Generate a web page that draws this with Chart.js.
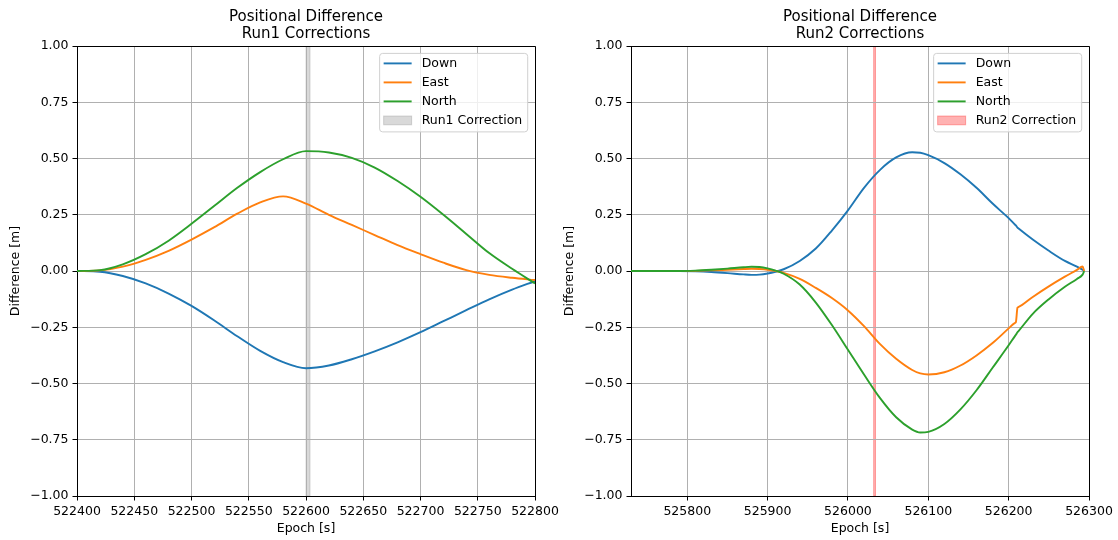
<!DOCTYPE html>
<html>
<head>
<meta charset="utf-8">
<script src="https://cdn.jsdelivr.net/npm/chart.js@4.4.0/dist/chart.umd.min.js"></script>
<style>
  body { margin: 0; background: #fff; }
  #wrap { position: relative; width: 1118px; height: 540px; }
  canvas { position: absolute; top: 0; }
</style>
</head>
<body>
<div id="wrap">
  <canvas id="run1" width="559" height="540" style="left:0"></canvas>
  <canvas id="run2" width="559" height="540" style="left:554px"></canvas>
</div>
<script>
// Run1 (left panel)
const leftEpochs = [522400, 522420, 522440, 522460, 522480, 522500, 522520, 522540, 522560, 522580,
  522600, 522620, 522640, 522660, 522680, 522700, 522720, 522740, 522760, 522780, 522800];
const leftDown = [0, -0.003, -0.022, -0.055, -0.10, -0.155, -0.22, -0.29, -0.355, -0.405,
  -0.432, -0.42, -0.392, -0.357, -0.317, -0.272, -0.223, -0.174, -0.126, -0.083, -0.045];
const leftEast = [0, 0.003, 0.02, 0.05, 0.09, 0.14, 0.195, 0.255, 0.305, 0.332,
  0.30, 0.25, 0.205, 0.16, 0.115, 0.075, 0.037, 0.004, -0.017, -0.03, -0.04];
const leftNorth = [0, 0.004, 0.03, 0.075, 0.135, 0.21, 0.29, 0.37, 0.44, 0.497,
  0.533, 0.527, 0.503, 0.46, 0.40, 0.33, 0.25, 0.165, 0.08, 0.01, -0.055];
const leftXTicks = [522400, 522450, 522500, 522550, 522600, 522650, 522700, 522750, 522800];
const run1Spans = [[522600, 522603.5]];

// Run2 (right panel)
const rightEpochs = [525730, 525760, 525790, 525810, 525830, 525850, 525870, 525880, 525890, 525900,
  525910, 525920, 525940, 525960, 525980, 526000, 526020, 526040, 526060, 526080, 526090, 526100,
  526120, 526140, 526160, 526180, 526200, 526208, 526209, 526211, 526212, 526230, 526250, 526270,
  526285, 526292, 526294];
const rightDown = [0, 0, 0, -0.001, -0.004, -0.009, -0.015, -0.017, -0.016, -0.011,
  -0.003, 0.008, 0.045, 0.10, 0.18, 0.27, 0.37, 0.45, 0.505, 0.528, 0.526, 0.515,
  0.48, 0.43, 0.37, 0.30, 0.235, 0.206, 0.203, 0.193, 0.190, 0.14, 0.09, 0.045,
  0.02, 0.006, 0];
const rightEast = [0, 0, 0, 0.001, 0.003, 0.006, 0.009, 0.01, 0.009, 0.006,
  0.0, -0.008, -0.035, -0.075, -0.12, -0.175, -0.245, -0.325, -0.39, -0.44, -0.455, -0.46,
  -0.45, -0.42, -0.375, -0.32, -0.255, -0.230, -0.227, -0.163, -0.160, -0.115, -0.068, -0.025,
  0.005, 0.02, 0];
const rightNorth = [0, 0, 0, 0.002, 0.006, 0.011, 0.017, 0.019, 0.018, 0.012,
  0.002, -0.012, -0.06, -0.14, -0.24, -0.35, -0.46, -0.565, -0.65, -0.705, -0.718, -0.715,
  -0.68, -0.615, -0.53, -0.43, -0.33, -0.288, -0.283, -0.272, -0.268, -0.19, -0.125, -0.07,
  -0.035, -0.016, 0];
const rightXTicks = [525800, 525900, 526000, 526100, 526200, 526300];
const run2Spans = [[526032, 526034.3]];

const yTicks = [-1, -0.75, -0.5, -0.25, 0, 0.25, 0.5, 0.75, 1];

const FONT = '"DejaVu Sans", sans-serif';
const colors = { Down: '#1f77b4', East: '#ff7f0e', North: '#2ca02c' };

function pts(xs, ys) {
  return xs.map((x, i) => ({ x: x, y: ys[i] }));
}

// axvspan-like bands, drawn under the grid
const spanPlugin = {
  id: 'spans',
  beforeDraw(chart, args, opts) {
    const { ctx, chartArea: a } = chart;
    const xs = chart.scales.x;
    ctx.save();
    ctx.beginPath();
    ctx.rect(a.left, a.top, a.width, a.height);
    ctx.clip();
    ctx.fillStyle = opts.color;
    ctx.strokeStyle = opts.color;
    ctx.lineWidth = 1;
    opts.spans.forEach(s => {
      const x0 = xs.getPixelForValue(s[0]);
      const x1 = xs.getPixelForValue(s[1]);
      ctx.fillRect(x0, a.top, x1 - x0, a.height);
      ctx.strokeRect(x0, a.top, x1 - x0, a.height);
    });
    ctx.restore();
  }
};

// top/right spines + legend inside upper right
const framePlugin = {
  id: 'frame',
  afterDraw(chart, args, opts) {
    const { ctx, chartArea: a } = chart;
    const al = p => Math.round(p - 0.5) + 0.5;
    ctx.save();
    ctx.strokeStyle = '#000';
    ctx.lineWidth = 1;
    ctx.beginPath();
    ctx.moveTo(al(a.left), al(a.top));
    ctx.lineTo(al(a.right), al(a.top));
    ctx.lineTo(al(a.right), al(a.bottom));
    ctx.stroke();

    ctx.font = '12.5px ' + FONT;
    const items = chart.data.datasets.map(d => ({ label: d.label, color: d.borderColor, patch: false }));
    items.push({ label: opts.label, color: opts.color, patch: true });
    const textW = Math.max(...items.map(i => ctx.measureText(i.label).width));
    const padL = 4, handle = 28, gap = 10, padR = 5.5, rowH = 19;
    const w = padL + handle + gap + textW + padR;
    const h = 10 + (items.length - 1) * rowH + 11.5;
    const x = a.right - 7.3 - w, y = a.top + 7.3;

    ctx.beginPath();
    ctx.roundRect(x, y, w, h, 3);
    ctx.fillStyle = 'rgba(255,255,255,0.8)';
    ctx.fill();
    ctx.strokeStyle = '#d0d0d0';
    ctx.stroke();

    items.forEach((it, i) => {
      const cy = y + 10 + i * rowH;
      const hx = x + padL;
      if (it.patch) {
        ctx.fillStyle = it.color;
        ctx.strokeStyle = it.color;
        ctx.fillRect(hx, cy - 4.4, handle, 8.8);
        ctx.strokeRect(hx, cy - 4.4, handle, 8.8);
      } else {
        ctx.strokeStyle = it.color;
        ctx.lineWidth = 1.9;
        ctx.beginPath();
        ctx.moveTo(hx, cy);
        ctx.lineTo(hx + handle, cy);
        ctx.stroke();
        ctx.lineWidth = 1;
      }
      ctx.fillStyle = '#000';
      ctx.textBaseline = 'middle';
      ctx.textAlign = 'left';
      ctx.fillText(it.label, hx + handle + gap, cy + 0.5);
    });
    ctx.restore();
  }
};

function makeChart(id, runName, xs, down, east, north, xMin, xMax, xTicks, spans, spanColor) {
  const ds = (label, ys, order) => ({
    label: label,
    data: pts(xs, ys),
    borderColor: colors[label],
    borderWidth: 1.9,
    pointRadius: 0,
    fill: false,
    cubicInterpolationMode: 'monotone',
    order: order
  });
  return new Chart(document.getElementById(id), {
    type: 'line',
    data: { datasets: [ds('Down', down, 2), ds('East', east, 1), ds('North', north, 0)] },
    options: {
      responsive: false,
      animation: false,
      devicePixelRatio: 1,
      layout: { padding: { left: 0, right: 24, top: 0, bottom: 0 } },
      plugins: {
        legend: { display: false },
        tooltip: { enabled: false },
        title: {
          display: true,
          fullSize: false,
          text: ['Positional Difference', runName + ' Corrections'],
          color: '#000',
          font: { family: FONT, size: 15, weight: 'normal', lineHeight: 1.17 },
          padding: { top: 8, bottom: 3 }
        },
        spans: { spans: spans, color: spanColor },
        frame: { label: runName + ' Correction', color: spanColor }
      },
      scales: {
        x: {
          type: 'linear',
          min: xMin,
          max: xMax,
          afterBuildTicks: s => { s.ticks = xTicks.map(v => ({ value: v })); },
          afterFit: s => { s.height = 44; s.paddingLeft = 0; s.paddingRight = 0; },
          ticks: {
            color: '#000',
            font: { family: FONT, size: 12.5 },
            maxRotation: 0,
            autoSkip: false,
            padding: 4,
            callback: v => String(v)
          },
          grid: { color: '#b0b0b0', lineWidth: 1, tickColor: '#000', tickLength: 4.5, tickWidth: 1 },
          border: { color: '#000', width: 1 },
          title: { display: true, text: 'Epoch [s]', color: '#000',
            font: { family: FONT, size: 12.5 }, padding: { top: 2, bottom: 3.5 } }
        },
        y: {
          min: yTicks[0],
          max: yTicks[yTicks.length - 1],
          afterBuildTicks: s => { s.ticks = yTicks.map(v => ({ value: v })); },
          afterFit: s => { s.width = 77; },
          ticks: {
            color: '#000',
            font: { family: FONT, size: 12.5 },
            padding: 4,
            callback: v => (v < 0 ? '\u2212' : '') + Math.abs(v).toFixed(2)
          },
          grid: { color: '#b0b0b0', lineWidth: 1, tickColor: '#000', tickLength: 4.5, tickWidth: 1 },
          border: { color: '#000', width: 1 },
          title: { display: true, text: 'Difference [m]', color: '#000',
            font: { family: FONT, size: 12.5 }, padding: { top: 8.5, bottom: 0 } }
        }
      }
    },
    plugins: [spanPlugin, framePlugin]
  });
}

makeChart('run1', 'Run1', leftEpochs, leftDown, leftEast, leftNorth,
  522400, 522800, leftXTicks, run1Spans, 'rgba(128,128,128,0.3)');
makeChart('run2', 'Run2', rightEpochs, rightDown, rightEast, rightNorth,
  525730, 526300, rightXTicks, run2Spans, 'rgba(255,0,0,0.3)');
</script>
</body>
</html>
